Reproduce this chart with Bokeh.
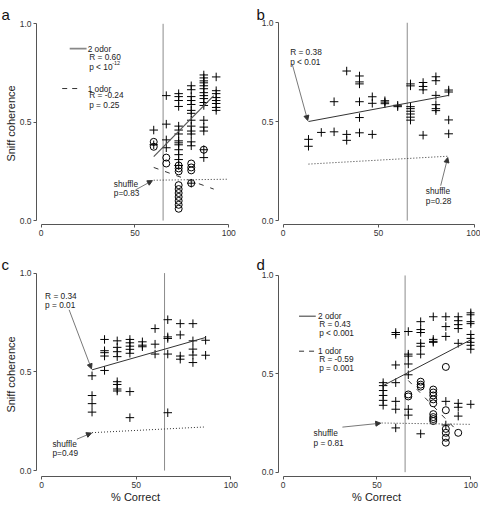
from bokeh.plotting import figure
from bokeh.layouts import column, row
from bokeh.models import Label, Arrow, NormalHead, FixedTicker, NumeralTickFormatter, Range1d
from bokeh.embed import file_html
from bokeh.resources import INLINE

FONT = "Liberation Sans"
threshold = 65

# ---------------- data (x = % correct, y = sniff coherence) ----------------
# panel a
a_two = {60: [0.46, 0.385],
         66.7: [0.635, 0.49, 0.41, 0.37],
         73.3: [0.645, 0.63, 0.61, 0.58, 0.48, 0.46, 0.44, 0.405, 0.395, 0.385, 0.36, 0.335, 0.31, 0.28],
         80: [0.685, 0.665, 0.63, 0.61, 0.59, 0.56, 0.545, 0.51, 0.48, 0.455, 0.44, 0.40, 0.38, 0.19],
         86.7: [0.74, 0.725, 0.71, 0.70, 0.685, 0.67, 0.65, 0.635, 0.62, 0.60, 0.585, 0.51, 0.475, 0.455, 0.36, 0.32],
         93.3: [0.73, 0.66, 0.645, 0.625, 0.61, 0.595, 0.575, 0.56]}
a_one = {60: [0.40, 0.375],
         66.7: [0.32, 0.29],
         73.3: [0.28, 0.265, 0.25, 0.18, 0.16, 0.14, 0.12, 0.10, 0.08, 0.06],
         80: [0.29, 0.27, 0.255, 0.19],
         86.7: [0.36]}
a_fit_two = ([60, 92], [0.325, 0.635])
a_fit_one = ([60, 92], [0.27, 0.16])
a_shuffle = ([60, 99], [0.205, 0.21])

# panel b
b_two = {13.3: [0.41, 0.375],
         20: [0.445],
         26.7: [0.60, 0.448],
         33.3: [0.755, 0.435, 0.405],
         40: [0.73, 0.70, 0.69, 0.60, 0.52, 0.443],
         46.7: [0.625, 0.592, 0.435],
         53.3: [0.605, 0.598, 0.59],
         60: [0.582, 0.575],
         66.7: [0.69, 0.68, 0.575, 0.565, 0.552, 0.538, 0.522, 0.507],
         73.3: [0.697, 0.677, 0.66, 0.431],
         80: [0.726, 0.706, 0.632, 0.585, 0.565, 0.555],
         86.7: [0.659, 0.649, 0.508, 0.438]}
b_fit = ([13.3, 86.7], [0.50, 0.632])
b_shuffle = ([13.3, 86.7], [0.285, 0.325])

# panel c
c_two = {26.7: [0.48, 0.38, 0.339, 0.296],
         33.3: [0.664, 0.607, 0.597, 0.58, 0.507],
         40: [0.657, 0.624, 0.602, 0.577, 0.45, 0.436, 0.413, 0.403],
         46.7: [0.664, 0.647, 0.63, 0.614, 0.594, 0.40, 0.268],
         53.3: [0.652, 0.635, 0.627],
         60: [0.719, 0.64, 0.59],
         66.7: [0.764, 0.677, 0.669, 0.59, 0.293],
         73.3: [0.744, 0.687, 0.58, 0.564],
         80: [0.744, 0.657, 0.615, 0.585, 0.547],
         86.7: [0.66, 0.584]}
c_fit = ([26.7, 86.7], [0.51, 0.674])
c_shuffle = ([26.7, 86.7], [0.192, 0.221])

# panel d
d_two = {53.3: [0.455, 0.44, 0.415, 0.39, 0.365, 0.34],
         60: [0.71, 0.70, 0.545, 0.455, 0.36, 0.32, 0.225],
         66.7: [0.715, 0.60, 0.59, 0.55, 0.495, 0.32, 0.29],
         73.3: [0.765, 0.725, 0.71, 0.655, 0.64, 0.60, 0.195],
         80: [0.79, 0.675, 0.665, 0.66],
         86.7: [0.79, 0.74, 0.69, 0.36, 0.24],
         93.3: [0.79, 0.77, 0.75, 0.73, 0.655, 0.35, 0.33, 0.285],
         100: [0.81, 0.80, 0.765, 0.755, 0.70, 0.68, 0.66, 0.645, 0.625, 0.345]}
d_one = {66.7: [0.395, 0.385],
         73.3: [0.46, 0.445, 0.435],
         80: [0.42, 0.405, 0.39, 0.37, 0.35, 0.295, 0.28, 0.27, 0.26],
         86.7: [0.535, 0.315, 0.22, 0.20, 0.175, 0.15],
         93.3: [0.20]}
d_fit_two = ([53.3, 100], [0.44, 0.673])
d_fit_one = ([66.7, 93.3], [0.466, 0.205])
d_shuffle = ([52.5, 100], [0.25, 0.243])

x_ticks = [0, 50, 100]
y_ticks = [0.0, 0.5, 1.0]
panel_letters = ["a", "b", "c", "d"]


def flatten(groups):
    xs, ys = [], []
    for x, vals in groups.items():
        for v in vals:
            xs.append(x)
            ys.append(v)
    return xs, ys


def make_panel(width, height, left, right, top, bottom, xr, yr, letter, letter_offset,
               ylabel=None, xlabel=None):
    p = figure(width=width, height=height, output_backend="svg", toolbar_location=None,
               x_range=Range1d(*xr), y_range=Range1d(*yr),
               min_border_left=left, min_border_right=right,
               min_border_top=top, min_border_bottom=bottom)
    p.xgrid.visible = False
    p.ygrid.visible = False
    p.outline_line_color = None
    p.background_fill_color = "white"
    for ax in (p.xaxis, p.yaxis):
        ax.axis_line_color = "#555555"
        ax.major_tick_line_color = "#555555"
        ax.major_tick_out = 3
        ax.major_tick_in = 0
        ax.minor_tick_out = 0
        ax.minor_tick_in = 0
        ax.major_label_text_font = FONT
        ax.major_label_text_font_size = "8.5px"
        ax.major_label_text_color = "#333333"
        ax.major_label_standoff = 2
        ax.axis_label_text_font = FONT
        ax.axis_label_text_font_size = "11px"
        ax.axis_label_text_font_style = "normal"
        ax.axis_label_text_color = "#222222"
        ax.axis_label_standoff = 0
    p.xaxis.ticker = FixedTicker(ticks=x_ticks)
    p.yaxis.ticker = FixedTicker(ticks=y_ticks)
    p.yaxis.formatter = NumeralTickFormatter(format="0.0")
    p.xaxis.bounds = (0, 100)
    p.yaxis.bounds = (0, 1)
    if ylabel:
        p.yaxis.axis_label = ylabel
    if xlabel:
        p.xaxis.axis_label = xlabel
    p.title.text = letter
    p.title.text_font = FONT
    p.title.text_font_size = "15px"
    p.title.text_font_style = "normal"
    p.title.text_color = "#111111"
    p.title.align = "left"
    p.title.offset = letter_offset
    p.title.standoff = 0
    # criterion line
    p.line([threshold, threshold], [0, 1], line_color="#8c8c8c", line_width=1)
    return p


def txt(p, x, y, s, size="8.3px"):
    p.add_layout(Label(x=x, y=y, text=s, text_font=FONT, text_font_size=size,
                       text_color="#222222", text_align="left", text_baseline="middle"))


def arrow(p, x0, y0, x1, y1):
    p.add_layout(Arrow(end=NormalHead(size=5, fill_color="#333333", line_color="#333333"),
                       x_start=x0, y_start=y0, x_end=x1, y_end=y1,
                       line_color="#555555", line_width=0.8))


def plus(p, groups):
    xs, ys = flatten(groups)
    p.scatter(xs, ys, marker="cross", size=8.5, line_color="black", line_width=1)


def circ(p, groups):
    xs, ys = flatten(groups)
    p.scatter(xs, ys, marker="circle", size=7, fill_color=None, line_color="black", line_width=1)


SOLID = dict(line_color="#333333", line_width=1)
DASH = dict(line_color="#333333", line_width=1, line_dash="5 7")
LEGDASH = dict(line_color="#333333", line_width=1, line_dash="5 5")
DOT = dict(line_color="#333333", line_width=1, line_dash="1 2")

# ---------------- panel a ----------------
pa = make_panel(240, 250, 36, 8, 22, 26, (-2.5, 102), (-0.02, 1.0066), panel_letters[0], -35,
                ylabel="Sniff coherence")
circ(pa, a_one)
plus(pa, a_two)
pa.line(*a_fit_two, line_color="#555555", line_width=1.2)
pa.line(*a_fit_one, **DASH)
pa.line(*a_shuffle, **DOT)
pa.line([15.2, 24.2], [0.874, 0.874], line_color="#888888", line_width=1.6)
txt(pa, 24.8, 0.874, "2 odor")
txt(pa, 25.6, 0.829, "R = 0.60")
txt(pa, 25.6, 0.778, "p < 10")
pa.add_layout(Label(x=25.6, y=0.778, x_offset=23, y_offset=2, text="-12", text_font=FONT,
                    text_font_size="5.5px", text_color="#222222", text_baseline="bottom"))
pa.line([11.2, 19.2], [0.671, 0.671], **LEGDASH)
txt(pa, 24.8, 0.671, "1 odor")
txt(pa, 25.6, 0.637, "R = -0.24")
txt(pa, 25.6, 0.586, "p = 0.25")
txt(pa, 38.7, 0.186, "shuffle")
txt(pa, 38.7, 0.139, "p=0.83")
arrow(pa, 50.3, 0.156, 59.3, 0.203)

# ---------------- panel b ----------------
pb = make_panel(240, 250, 38, 2, 22, 26, (-2.4, 102.3), (-0.02, 1.0), panel_letters[1], -22)
plus(pb, b_two)
pb.line(*b_fit, **SOLID)
pb.line(*b_shuffle, **DOT)
txt(pb, 3.7, 0.853, "R = 0.38")
txt(pb, 3.7, 0.80, "p < 0.01")
arrow(pb, 4.9, 0.786, 12.9, 0.505)
txt(pb, 74.7, 0.15, "shuffle")
txt(pb, 74.7, 0.10, "p=0.28")
arrow(pb, 82.5, 0.176, 86.2, 0.318)

# ---------------- panel c ----------------
pc = make_panel(240, 256, 36, 6, 22, 28, (-2.64, 101.96), (-0.03, 1.003), panel_letters[2], -35,
                ylabel="Sniff coherence", xlabel="% Correct")
plus(pc, c_two)
pc.line(*c_fit, **SOLID)
pc.line(*c_shuffle, **DOT)
txt(pc, 1.9, 0.886, "R = 0.34")
txt(pc, 1.9, 0.836, "p = 0.01")
arrow(pc, 14.6, 0.814, 26.4, 0.515)
txt(pc, 5.8, 0.137, "shuffle")
txt(pc, 5.8, 0.089, "p=0.49")
arrow(pc, 18.7, 0.159, 26.4, 0.19)

# ---------------- panel d ----------------
pd = make_panel(240, 256, 38, 6, 22, 30, (-2.45, 101.97), (-0.022, 1.015), panel_letters[3], -22,
                xlabel="% Correct")
circ(pd, d_one)
plus(pd, d_two)
pd.line(*d_fit_two, **SOLID)
pd.line(*d_fit_one, **DASH)
pd.line(*d_shuffle, **DOT)
pd.line([8.5, 17.4], [0.793, 0.793], **SOLID)
txt(pd, 18.6, 0.793, "2 odor")
txt(pd, 19.2, 0.751, "R = 0.43")
txt(pd, 19.2, 0.707, "p < 0.001")
pd.line([8.5, 17.4], [0.615, 0.615], **LEGDASH)
txt(pd, 18.6, 0.615, "1 odor")
txt(pd, 19.2, 0.573, "R = -0.59")
txt(pd, 19.2, 0.531, "p = 0.001")
txt(pd, 16.2, 0.198, "shuffle")
txt(pd, 16.2, 0.149, "p = 0.81")
arrow(pd, 31.6, 0.229, 52.0, 0.249)

layout = column(row(pa, pb), row(pc, pd))
open("out.html", "w").write(file_html(layout, INLINE))
